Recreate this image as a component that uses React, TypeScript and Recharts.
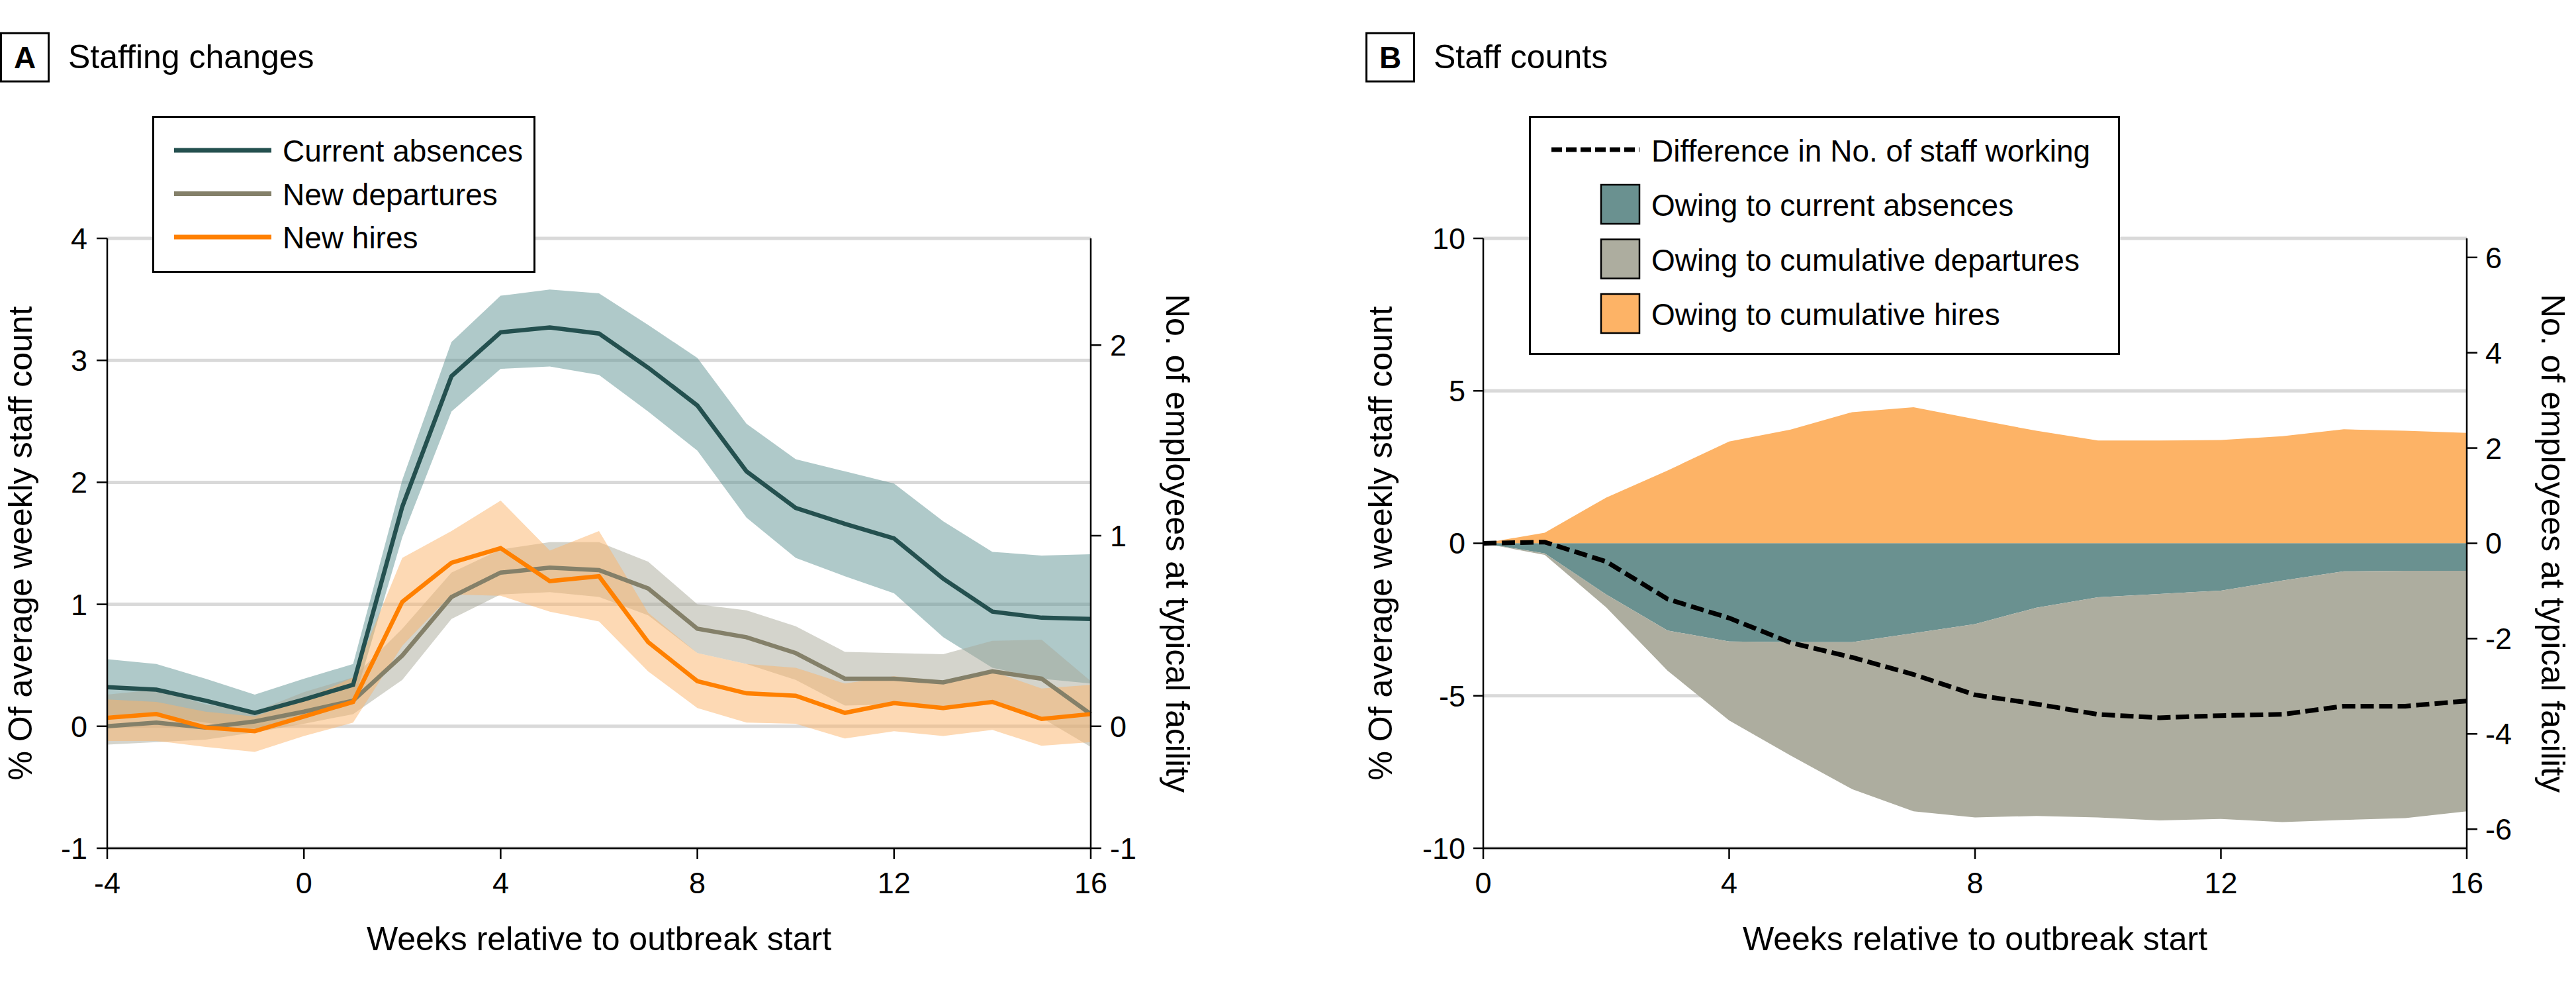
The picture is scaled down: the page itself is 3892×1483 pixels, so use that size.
import React from 'react';
import { ComposedChart, Line, Area, XAxis, YAxis, CartesianGrid, Legend } from 'recharts';

const FONT = '"Liberation Sans", Arial, sans-serif';
const PCT_PER_EMPLOYEE = 1.5625;

// Panel A: staffing changes, weeks -4..16
const weeksA = [-4, -3, -2, -1, 0, 1, 2, 3, 4, 5, 6, 7, 8, 9, 10, 11, 12, 13, 14, 15, 16];
const absences = [0.32, 0.30, 0.21, 0.11, 0.22, 0.34, 1.80, 2.87, 3.23, 3.27, 3.22, 2.94, 2.63, 2.09, 1.79, 1.66, 1.54, 1.21, 0.94, 0.89, 0.88];
const absencesLow = [0.09, 0.09, 0.03, -0.02, 0.07, 0.18, 1.55, 2.58, 2.93, 2.95, 2.88, 2.58, 2.26, 1.71, 1.38, 1.23, 1.09, 0.73, 0.48, 0.39, 0.35];
const absencesHigh = [0.55, 0.51, 0.39, 0.26, 0.39, 0.51, 2.02, 3.15, 3.53, 3.58, 3.55, 3.29, 3.02, 2.48, 2.19, 2.09, 1.99, 1.68, 1.43, 1.40, 1.41];
const departures = [0.0, 0.03, -0.01, 0.04, 0.12, 0.21, 0.58, 1.06, 1.26, 1.30, 1.28, 1.13, 0.80, 0.73, 0.60, 0.39, 0.39, 0.36, 0.45, 0.39, 0.10];
const departuresLow = [-0.15, -0.13, -0.11, -0.05, 0.02, 0.10, 0.38, 0.88, 1.08, 1.10, 1.06, 0.91, 0.60, 0.51, 0.38, 0.17, 0.18, 0.13, 0.20, 0.07, -0.17];
const departuresHigh = [0.26, 0.30, 0.18, 0.12, 0.28, 0.40, 0.80, 1.26, 1.45, 1.51, 1.51, 1.35, 1.00, 0.95, 0.82, 0.61, 0.60, 0.59, 0.70, 0.71, 0.37];
const hires = [0.07, 0.10, -0.01, -0.04, 0.08, 0.20, 1.02, 1.34, 1.46, 1.19, 1.23, 0.69, 0.37, 0.27, 0.25, 0.11, 0.19, 0.15, 0.20, 0.06, 0.10];
const hiresLow = [-0.12, -0.12, -0.17, -0.21, -0.08, 0.03, 0.66, 1.08, 1.07, 0.94, 0.86, 0.45, 0.15, 0.03, 0.02, -0.10, -0.04, -0.08, -0.03, -0.16, -0.13];
const hiresHigh = [0.22, 0.20, 0.12, 0.08, 0.22, 0.40, 1.38, 1.60, 1.85, 1.44, 1.60, 0.93, 0.60, 0.51, 0.48, 0.35, 0.41, 0.37, 0.45, 0.31, 0.34];

const xTicksA = [-4, 0, 4, 8, 12, 16];
const yDomainA: [number, number] = [-1, 4];
const yTicksA = [-1, 0, 1, 2, 3, 4];
const rightTicksA = [0, 1, 2];
const rightBottomLabelA = '-1';
const rightDomainA: [number, number] = [yDomainA[0] / PCT_PER_EMPLOYEE, yDomainA[1] / PCT_PER_EMPLOYEE];

// Panel B: staff counts, weeks 0..16
const weeksB = [0, 1, 2, 3, 4, 5, 6, 7, 8, 9, 10, 11, 12, 13, 14, 15, 16];
const hiresEffect = [0, 0.35, 1.50, 2.39, 3.34, 3.73, 4.30, 4.46, 4.07, 3.69, 3.37, 3.37, 3.39, 3.51, 3.74, 3.69, 3.62];
const absencesEffect = [0, -0.33, -1.68, -2.86, -3.22, -3.24, -3.24, -2.95, -2.65, -2.11, -1.77, -1.66, -1.55, -1.22, -0.92, -0.90, -0.90];
const departuresEffect = [0, -0.05, -0.42, -1.32, -2.59, -3.72, -4.82, -5.84, -6.34, -6.83, -7.22, -7.43, -7.49, -7.92, -8.15, -8.11, -7.89];
const netDifference = [0, 0.04, -0.60, -1.83, -2.45, -3.26, -3.74, -4.30, -4.97, -5.27, -5.61, -5.72, -5.65, -5.61, -5.34, -5.34, -5.17];

const xTicksB = [0, 4, 8, 12, 16];
const yDomainB: [number, number] = [-10, 10];
const yTicksB = [-10, -5, 0, 5, 10];
const rightTicksB = [-6, -4, -2, 0, 2, 4, 6];
const rightDomainB: [number, number] = [yDomainB[0] / PCT_PER_EMPLOYEE, yDomainB[1] / PCT_PER_EMPLOYEE];

const legendA = [
  { name: 'Current absences', color: '#24504f' },
  { name: 'New departures', color: '#848069' },
  { name: 'New hires', color: '#ff8000' },
];
const legendB = [
  { name: 'Owing to current absences', color: '#6a9190' },
  { name: 'Owing to cumulative departures', color: '#adad9f' },
  { name: 'Owing to cumulative hires', color: '#fdb366' },
];

const rowsA = weeksA.map((week, i) => ({
  week,
  abs: absences[i],
  absBand: [absencesLow[i], absencesHigh[i]],
  dep: departures[i],
  depBand: [departuresLow[i], departuresHigh[i]],
  hire: hires[i],
  hireBand: [hiresLow[i], hiresHigh[i]],
}));

const rowsB = weeksB.map((week, i) => ({
  week,
  hire: hiresEffect[i],
  abs: absencesEffect[i],
  dep: departuresEffect[i],
  net: netDifference[i],
}));

const tickStyle = { fontSize: 45, fill: '#000', fontFamily: FONT };
const titleStyle = { fontSize: 50, fill: '#000', fontFamily: FONT };
const axisLine = { stroke: '#000', strokeWidth: 2.5 };

const LegendBoxA = () => (
  <svg width={579} height={237} style={{ display: 'block' }}>
    <rect x={1.5} y={1.5} width={576} height={234} fill="#fff" stroke="#000" strokeWidth={3} />
    {legendA.map((item, i) => (
      <g key={item.name}>
        <line x1={33} x2={180} y1={52 + i * 65.5} y2={52 + i * 65.5} stroke={item.color} strokeWidth={7} />
        <text x={197} y={69 + i * 65.5} fontSize={46} fontFamily={FONT} fill="#000">{item.name}</text>
      </g>
    ))}
  </svg>
);

const LegendBoxB = () => (
  <svg width={893} height={361} style={{ display: 'block' }}>
    <rect x={1.5} y={1.5} width={890} height={358} fill="#fff" stroke="#000" strokeWidth={3} />
    <line x1={34} x2={167} y1={51} y2={51} stroke="#000" strokeWidth={7} strokeDasharray="16 6" />
    <text x={185} y={69} fontSize={46} fontFamily={FONT} fill="#000">Difference in No. of staff working</text>
    {legendB.map((item, i) => (
      <g key={item.name}>
        <rect x={109} y={104 + i * 82.5} width={58} height={59} fill={item.color} stroke="#000" strokeWidth={2.5} />
        <text x={185} y={151 + i * 82.5} fontSize={46} fontFamily={FONT} fill="#000">{item.name}</text>
      </g>
    ))}
  </svg>
);

const PanelTitle = ({ x, letter, text }: { x: number; letter: string; text: string }) => (
  <g>
    <rect x={x + 1.5} y={50} width={72} height={73} fill="#fff" stroke="#000" strokeWidth={3} />
    <text x={x + 37.5} y={103} textAnchor="middle" fontSize={46} fontWeight="bold" fontFamily={FONT}>{letter}</text>
    <text x={x + 103} y={103} fontSize={50} fontFamily={FONT}>{text}</text>
  </g>
);

export default function App() {
  return (
    <div style={{ position: 'absolute', left: 0, top: 0, width: 3892, height: 1483, background: '#fff', overflow: 'hidden' }}>
      <svg width={3892} height={140} style={{ position: 'absolute', left: 0, top: 0 }}>
        <PanelTitle x={0} letter="A" text="Staffing changes" />
        <PanelTitle x={2063} letter="B" text="Staff counts" />
      </svg>

      <div style={{ position: 'absolute', left: 0, top: 0 }}>
        <ComposedChart width={1946} height={1483} data={rowsA} margin={{ top: 360, right: 0, bottom: 0, left: 0 }}>
          <CartesianGrid yAxisId="pct" vertical={false} stroke="#d9d9d9" strokeWidth={5} />
          <XAxis
            dataKey="week"
            type="number"
            domain={[-4, 16]}
            ticks={xTicksA}
            interval={0}
            height={202}
            tickSize={16}
            tickMargin={20}
            tick={tickStyle}
            axisLine={axisLine}
            tickLine={axisLine}
            label={{ value: 'Weeks relative to outbreak start', position: 'insideBottom', offset: 48, style: titleStyle }}
          />
          <YAxis
            yAxisId="pct"
            width={162}
            domain={yDomainA}
            ticks={yTicksA}
            interval={0}
            tickSize={16}
            tickMargin={14}
            tick={tickStyle}
            axisLine={axisLine}
            tickLine={axisLine}
            label={{ value: '% Of average weekly staff count', angle: -90, position: 'insideLeft', offset: 30, style: { ...titleStyle, textAnchor: 'middle' } }}
          />
          <YAxis
            yAxisId="emp"
            orientation="right"
            type="number"
            width={298}
            domain={rightDomainA}
            allowDataOverflow
            ticks={[rightDomainA[0], ...rightTicksA]}
            tickFormatter={(v: number) => (v === rightDomainA[0] ? rightBottomLabelA : String(v))}
            interval={0}
            tickSize={16}
            tickMargin={13}
            tick={tickStyle}
            axisLine={axisLine}
            tickLine={axisLine}
            label={{ value: 'No. of employees at typical facility', angle: 90, position: 'insideRight', offset: 166, style: { ...titleStyle, textAnchor: 'middle' } }}
          />
          <Area yAxisId="pct" type="linear" dataKey="absBand" stroke="none" fill="#5f9493" fillOpacity={0.5} isAnimationActive={false} activeDot={false} />
          <Line yAxisId="pct" type="linear" dataKey="abs" stroke="#24504f" strokeWidth={6.5} dot={false} isAnimationActive={false} />
          <Area yAxisId="pct" type="linear" dataKey="depBand" stroke="none" fill="#a9a999" fillOpacity={0.5} isAnimationActive={false} activeDot={false} />
          <Line yAxisId="pct" type="linear" dataKey="dep" stroke="#848069" strokeWidth={6.5} dot={false} isAnimationActive={false} />
          <Area yAxisId="pct" type="linear" dataKey="hireBand" stroke="none" fill="#fcb369" fillOpacity={0.5} isAnimationActive={false} activeDot={false} />
          <Line yAxisId="pct" type="linear" dataKey="hire" stroke="#ff8000" strokeWidth={6.5} dot={false} isAnimationActive={false} />
          <Legend
            layout="vertical"
            align="center"
            verticalAlign="middle"
            content={() => <LegendBoxA />}
            wrapperStyle={{ left: 230, top: 175, width: 579, height: 237 }}
          />
        </ComposedChart>
      </div>

      <div style={{ position: 'absolute', left: 1946, top: 0 }}>
        <ComposedChart width={1946} height={1483} data={rowsB} margin={{ top: 360, right: 0, bottom: 0, left: 0 }}>
          <CartesianGrid yAxisId="pct" vertical={false} stroke="#d9d9d9" strokeWidth={5} />
          <XAxis
            dataKey="week"
            type="number"
            domain={[0, 16]}
            ticks={xTicksB}
            interval={0}
            height={202}
            tickSize={16}
            tickMargin={20}
            tick={tickStyle}
            axisLine={axisLine}
            tickLine={axisLine}
            label={{ value: 'Weeks relative to outbreak start', position: 'insideBottom', offset: 48, style: titleStyle }}
          />
          <YAxis
            yAxisId="pct"
            width={295}
            domain={yDomainB}
            ticks={yTicksB}
            interval={0}
            tickSize={15}
            tickMargin={12}
            tick={tickStyle}
            axisLine={axisLine}
            tickLine={axisLine}
            label={{ value: '% Of average weekly staff count', angle: -90, position: 'insideLeft', offset: 139, style: { ...titleStyle, textAnchor: 'middle' } }}
          />
          <YAxis
            yAxisId="emp"
            orientation="right"
            type="number"
            width={165}
            domain={rightDomainB}
            allowDataOverflow
            ticks={rightTicksB}
            interval={0}
            tickSize={16}
            tickMargin={12}
            tick={tickStyle}
            axisLine={axisLine}
            tickLine={axisLine}
            label={{ value: 'No. of employees at typical facility', angle: 90, position: 'insideRight', offset: 34, style: { ...titleStyle, textAnchor: 'middle' } }}
          />
          <Area yAxisId="pct" type="linear" dataKey="hire" stroke="none" fill="#fdb366" fillOpacity={1} isAnimationActive={false} activeDot={false} />
          <Area yAxisId="pct" type="linear" dataKey="abs" stackId="neg" stroke="none" fill="#6a9190" fillOpacity={1} isAnimationActive={false} activeDot={false} />
          <Area yAxisId="pct" type="linear" dataKey="dep" stackId="neg" stroke="none" fill="#adad9f" fillOpacity={1} isAnimationActive={false} activeDot={false} />
          <Line yAxisId="pct" type="linear" dataKey="net" stroke="#000" strokeWidth={7} strokeDasharray="20 8" dot={false} isAnimationActive={false} />
          <Legend
            layout="vertical"
            align="center"
            verticalAlign="middle"
            content={() => <LegendBoxB />}
            wrapperStyle={{ left: 364, top: 175, width: 893, height: 361 }}
          />
        </ComposedChart>
      </div>
    </div>
  );
}
